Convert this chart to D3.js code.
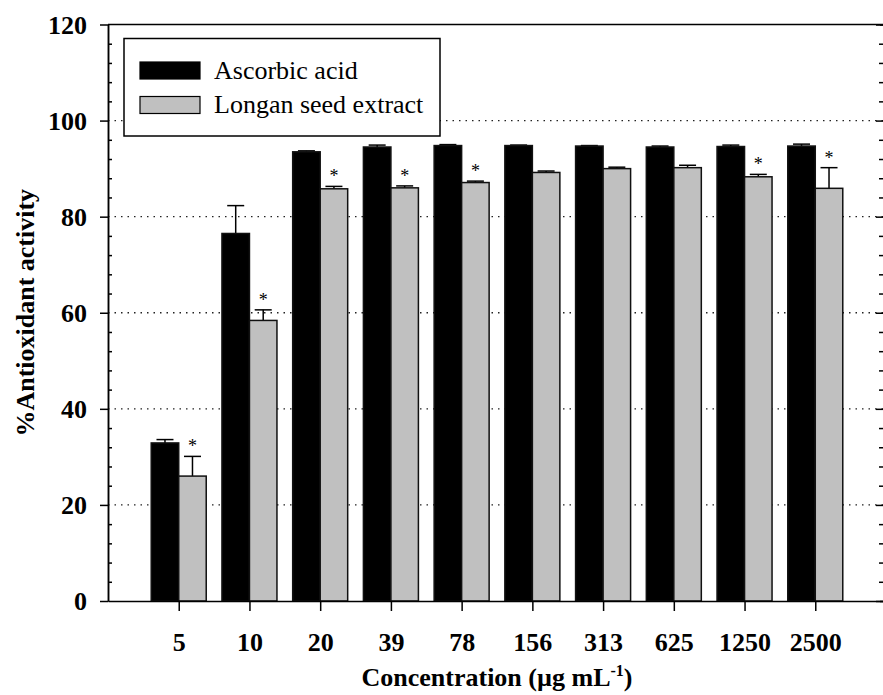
<!DOCTYPE html>
<html>
<head>
<meta charset="utf-8">
<script src="https://cdn.jsdelivr.net/npm/d3@7"></script>
<style>
    body { margin: 0; background: #fff; }
    svg text { font-family: "Liberation Serif", "Times New Roman", serif; }
</style>
</head>
<body>
<div id="chart"></div>
<script>
'use strict';

// data
var concentrations = ['5', '10', '20', '39', '78', '156', '313', '625', '1250', '2500'];
var ascorbic       = [32.9, 76.5, 93.5, 94.5, 94.8, 94.8, 94.7, 94.5, 94.6, 94.7];
var ascorbicErr    = [0.7, 5.8, 0.2, 0.4, 0.2, 0.1, 0.1, 0.2, 0.3, 0.4];
var longan         = [26.0, 58.4, 85.8, 86.0, 87.1, 89.2, 90.0, 90.2, 88.3, 85.9];
var longanErr      = [4.1, 2.2, 0.5, 0.4, 0.3, 0.3, 0.3, 0.5, 0.5, 4.3];
var significant    = [true, true, true, true, true, false, false, false, true, true];
var yTicks         = [0, 20, 40, 60, 80, 100, 120];
var seriesNames    = ['Ascorbic acid', 'Longan seed extract'];
var seriesColors   = ['#000000', '#c0c0c0'];

var width      = 883,
    height     = 695,
    plotLeft   = 108,
    plotRight  = 886,
    plotTop    = 24.5,
    plotBottom = 601,
    barW       = 27.5;

var svg = d3.select('#chart')
    .append('svg')
    .attr('width', width)
    .attr('height', height);

var x = d3.scalePoint()
    .domain(concentrations)
    .range([plotLeft, plotRight])
    .padding(1);

var y = d3.scaleLinear()
    .domain([0, 120])
    .range([plotBottom, plotTop]);

//dotted grid lines
svg.append('g')
    .selectAll('line')
    .data(yTicks.filter(function (d) { return d > 0 && d < 120; }))
    .enter()
    .append('line')
    .attr('x1', plotLeft).attr('x2', plotRight)
    .attr('y1', function (d) { return y(d); })
    .attr('y2', function (d) { return y(d); })
    .attr('stroke', '#222')
    .attr('stroke-width', 1.4)
    .attr('stroke-dasharray', '1.5,5');

//rows for both series
var rows = concentrations.map(function (c, i) {
    return [
        {c: c, v: ascorbic[i], e: ascorbicErr[i], s: 0, star: false},
        {c: c, v: longan[i], e: longanErr[i], s: 1, star: significant[i]}
    ];
});
var flat = [].concat.apply([], rows);

function barX(d) {
    return d.s === 0 ? x(d.c) - barW : x(d.c);
}

//error bars (upper half only)
var err = svg.append('g')
    .selectAll('g')
    .data(flat)
    .enter()
    .append('g')
    .attr('stroke', '#000')
    .attr('stroke-width', 1.5);
err.append('line')
    .attr('x1', function (d) { return barX(d) + barW / 2; })
    .attr('x2', function (d) { return barX(d) + barW / 2; })
    .attr('y1', function (d) { return y(d.v); })
    .attr('y2', function (d) { return y(d.v + d.e); });
err.append('line')
    .attr('x1', function (d) { return barX(d) + barW / 2 - 8.5; })
    .attr('x2', function (d) { return barX(d) + barW / 2 + 8.5; })
    .attr('y1', function (d) { return y(d.v + d.e); })
    .attr('y2', function (d) { return y(d.v + d.e); });

//bars
svg.append('g')
    .selectAll('rect')
    .data(flat)
    .enter()
    .append('rect')
    .attr('x', function (d) { return barX(d); })
    .attr('y', function (d) { return y(d.v); })
    .attr('width', barW)
    .attr('height', function (d) { return y(0) - y(d.v); })
    .attr('fill', function (d) { return seriesColors[d.s]; })
    .attr('stroke', '#111')
    .attr('stroke-width', 1.5);

//significance stars
svg.append('g')
    .selectAll('text')
    .data(flat.filter(function (d) { return d.star; }))
    .enter()
    .append('text')
    .attr('x', function (d) { return barX(d) + barW / 2; })
    .attr('y', function (d) { return y(d.v + d.e) - 4; })
    .attr('text-anchor', 'middle')
    .style('font-size', '18px')
    .text('*');

//frame: top line and right axis
svg.append('line')
    .attr('x1', plotLeft).attr('x2', plotRight)
    .attr('y1', plotTop).attr('y2', plotTop)
    .attr('stroke', '#000').attr('stroke-width', 1.5);

var minorTicks = d3.range(0, 121, 4);

var rightAxis = svg.append('g')
    .attr('transform', 'translate(' + plotRight + ',0)')
    .call(d3.axisLeft(y).tickValues(minorTicks).tickSize(6).tickFormat(''));
rightAxis.selectAll('.tick line')
    .attr('x2', function (d) { return d % 20 === 0 ? -10 : -7; });

//left axis: minor ticks inside, major outside
var leftAxis = svg.append('g')
    .attr('transform', 'translate(' + plotLeft + ',0)');
leftAxis.call(d3.axisRight(y).tickValues(minorTicks.filter(function (d) { return d % 20 !== 0; }))
    .tickSize(4).tickFormat('').tickSizeOuter(0));
leftAxis.append('g')
    .call(d3.axisLeft(y).tickValues(yTicks).tickSize(8).tickSizeOuter(0).tickPadding(13));

//bottom axis
var bottomAxis = svg.append('g')
    .attr('transform', 'translate(0,' + plotBottom + ')')
    .call(d3.axisBottom(x).tickSize(10).tickSizeOuter(0).tickPadding(28));

svg.selectAll('.domain, .tick line')
    .attr('stroke', '#000')
    .attr('stroke-width', 1.5);
svg.selectAll('.tick text')
    .attr('fill', '#000')
    .style('font-family', '"Liberation Serif", serif')
    .style('font-weight', 'bold')
    .style('font-size', '26px');
leftAxis.selectAll('.tick text').attr('dy', '0.34em');
bottomAxis.selectAll('.tick text').attr('dy', '0.45em');

//axis titles
var xTitle = svg.append('text')
    .attr('x', (plotLeft + plotRight) / 2)
    .attr('y', 686)
    .attr('text-anchor', 'middle')
    .style('font-weight', 'bold')
    .style('font-size', '26px');
xTitle.append('tspan').text('Concentration (\u00b5g mL');
xTitle.append('tspan').attr('dy', -10).style('font-size', '16px').text('-1');
xTitle.append('tspan').attr('dy', 10).text(')');

svg.append('text')
    .attr('transform', 'translate(34,' + (plotTop + plotBottom) / 2 + ') rotate(-90)')
    .attr('text-anchor', 'middle')
    .style('font-weight', 'bold')
    .style('font-size', '26px')
    .text('%Antioxidant activity');

//legend
var legend = svg.append('g');
legend.append('rect')
    .attr('x', 124).attr('y', 38.5)
    .attr('width', 316).attr('height', 97.5)
    .attr('fill', '#fff')
    .attr('stroke', '#000')
    .attr('stroke-width', 1.5);
var items = legend.selectAll('g.item')
    .data(seriesNames)
    .enter()
    .append('g')
    .attr('class', 'item')
    .attr('transform', function (d, i) { return 'translate(140,' + (62 + i * 34.5) + ')'; });
items.append('rect')
    .attr('width', 60).attr('height', 17)
    .attr('fill', function (d, i) { return seriesColors[i]; })
    .attr('stroke', '#000')
    .attr('stroke-width', 1.2);
items.append('text')
    .attr('x', 74)
    .attr('y', 16.5)
    .style('font-size', '26px')
    .text(function (d) { return d; });
</script>
</body>
</html>
